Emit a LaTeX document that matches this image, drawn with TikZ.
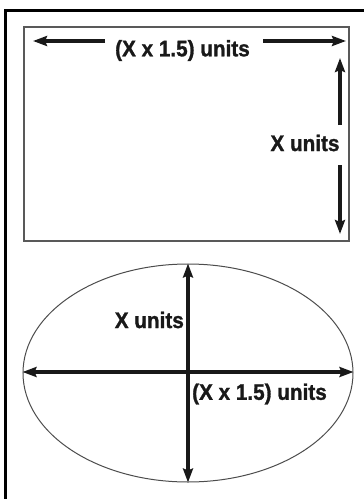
\documentclass[tikz,border=0pt]{standalone}
\usepackage{fontspec}
\setmainfont{Liberation Sans}
\newfontfamily\lblfont[FakeBold=1.2,FakeStretch=0.92]{Liberation Sans Bold}
\usetikzlibrary{arrows.meta,shapes.geometric}
\tikzset{
  lbl/.style={font=\lblfont\fontsize{22.5}{26}\selectfont, inner sep=0pt, text=black!90},
  arr/.style={line width=3.3pt, -{Stealth[length=14pt,width=10pt,inset=2pt]}, black!90},
  darr/.style={line width=3.3pt, {Stealth[length=14pt,width=10pt,inset=2pt]}-{Stealth[length=14pt,width=10pt,inset=2pt]}, black!90},
  frame/.style={line width=3.5pt, black},
  box/.style={line width=1.6pt, draw=black!65},
  oval/.style={line width=1pt, draw=black!70}
}
\begin{document}
\begin{tikzpicture}[x=1pt,y=-1pt]
\useasboundingbox (0,0) rectangle (364,499);
% outer frame (cropped)
\draw[frame] (5.5,499) -- (5.5,10.5) -- (364,10.5);
% rectangle
\draw[box] (24,27) rectangle (349,241);
\node[lbl] (wtop) at (182.5,50.5) {(X x 1.5) units};
\coordinate (tl) at (33,41);
\coordinate (tls) at (105,41);
\coordinate (trs) at (263,41);
\coordinate (tr) at (346,41);
\draw[arr] (tls) -- (tl);
\draw[arr] (trs) -- (tr);
\node[lbl] (hright) at (305,143) {X units};
\coordinate (vu) at (340,58);
\coordinate (vus) at (340,125);
\coordinate (vds) at (340,165);
\coordinate (vd) at (340,234);
\draw[arr] (vus) -- (vu);
\draw[arr] (vds) -- (vd);
% ellipse
\node[oval, ellipse, minimum width=330pt, minimum height=218pt, inner sep=0pt] (ell) at (188,373) {};
\coordinate (ctr) at (188,372);
\draw[darr] (ell.west |- ctr) -- (ell.east |- ctr);
\draw[darr] (ell.north) -- (ell.south);
\node[lbl, anchor=east] (ex) at (184,320) {X units};
\node[lbl, anchor=west] (ew) at (192,394) {(X x 1.5) units};
\end{tikzpicture}
\end{document}
